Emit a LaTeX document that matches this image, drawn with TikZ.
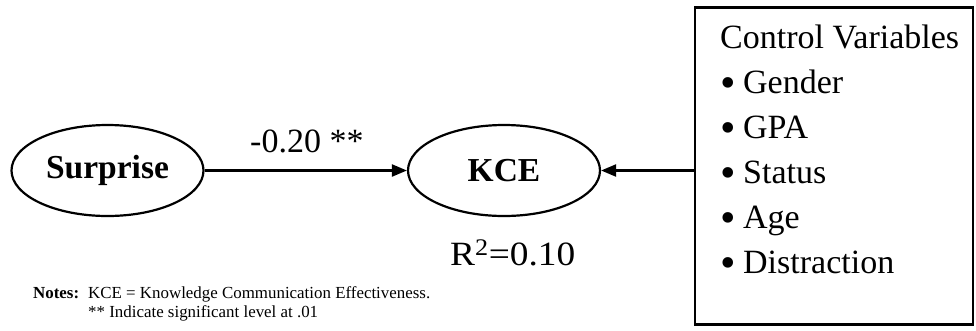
\documentclass[tikz,border=0pt]{standalone}
\usepackage{fontspec}
\setmainfont{Liberation Serif}
\usetikzlibrary{shapes.geometric,arrows.meta}
\newcommand{\bigbullet}{\raisebox{-4.5pt}{\scalebox{1.3}{\textbullet}}\hspace{-1pt}}
\begin{document}
\begin{tikzpicture}[x=1pt,y=-1pt,
  latent/.style={ellipse, draw, line width=2.2pt, minimum width=192pt,
    minimum height=91pt, inner sep=0pt, font=\fontsize{33.5}{38}\selectfont\bfseries},
  effect/.style={line width=2.2pt, -{Triangle[length=15pt,width=12pt]}},
  bigtext/.style={font=\fontsize{34}{40}\selectfont, inner sep=0pt, anchor=base west},
  notetext/.style={font=\fontsize{16.9}{19}\selectfont, inner sep=0pt, anchor=base west},
  ctrlbox/.style={draw, line width=2.6pt, minimum width=278pt, minimum height=317pt, inner sep=0pt}]
\useasboundingbox (0,0) rectangle (976,330);

% latent constructs
\node[latent] (s) at (107.5,170.5) {Surprise};
\node[latent] (k) at (504,170.5) {KCE};

% control variables box
\node[ctrlbox] (ctrl) at (834,166) {};
\node[bigtext] (cv) at (720,48) {Control Variables};
\node[bigtext] (c1) at (720,93) {\bigbullet\ Gender};
\node[bigtext] (c2) at (720,138) {\bigbullet\ GPA};
\node[bigtext] (c3) at (720,183) {\bigbullet\ Status};
\node[bigtext] (c4) at (720,228) {\bigbullet\ Age};
\node[bigtext] (c5) at (720,273) {\bigbullet\ Distraction};

% paths
\draw[effect] (s.east) -- (k.west);
\draw[effect] (k.east -| ctrl.west) -- (k.east);

% path coefficient and explained variance
\node[bigtext] (coef) at (250,152) {-0.20 **};
\node[bigtext] (r2) at (450,265) {\scalebox{1.1}[1]{R\textsuperscript{2}=0.10}};

% notes
\node[notetext, font=\fontsize{16.9}{19}\selectfont\bfseries] (notes) at (33,298) {Notes:};
\node[notetext] (n1) at (88,298) {KCE = Knowledge Communication Effectiveness.};
\node[notetext] (n2) at (88,317) {** Indicate significant level at .01};
\end{tikzpicture}
\end{document}
